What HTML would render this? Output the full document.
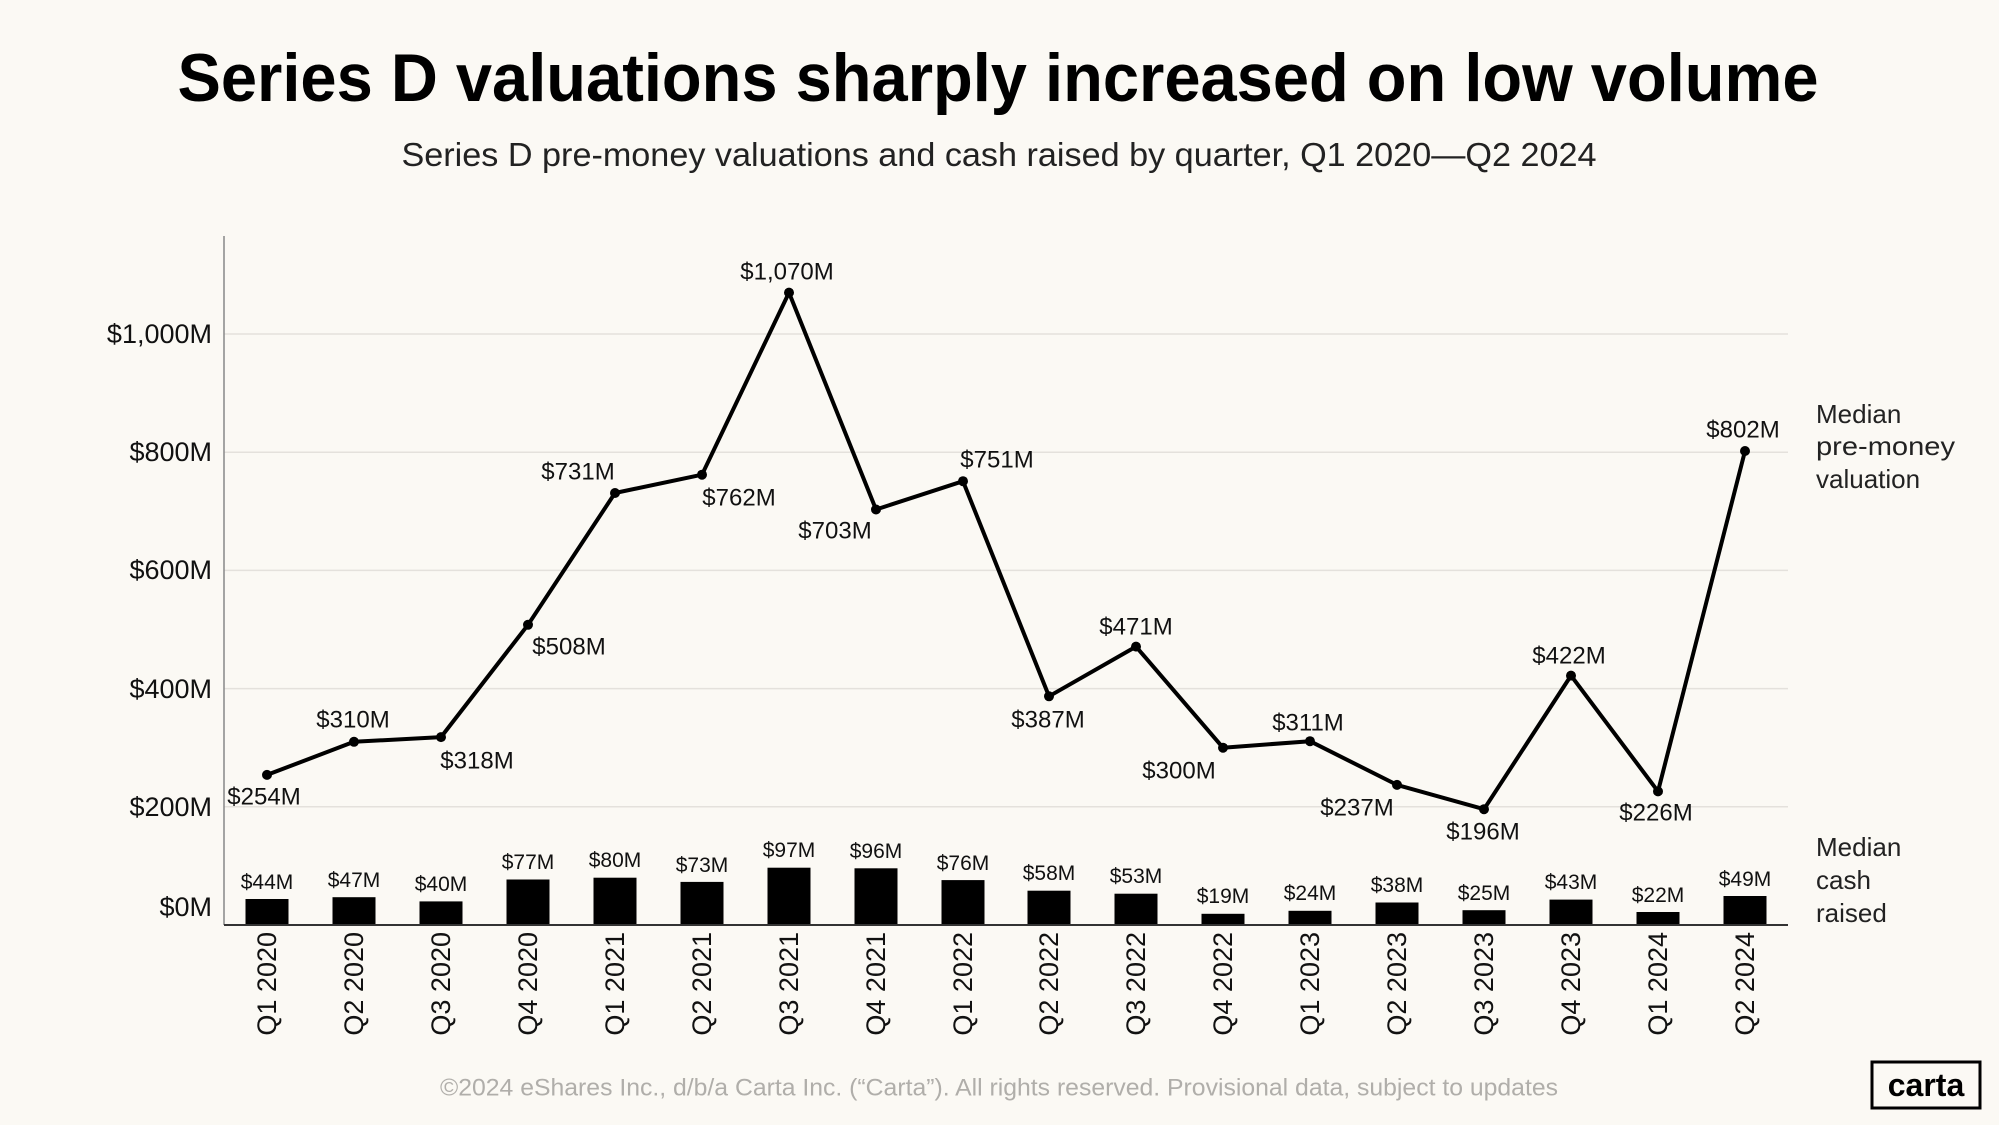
<!DOCTYPE html>
<html><head><meta charset="utf-8"><style>
html,body{margin:0;padding:0;background:#fbf9f4;}
svg{display:block;font-family:"Liberation Sans",sans-serif;}
</style></head><body>
<svg width="1999" height="1125" viewBox="0 0 1999 1125" xmlns="http://www.w3.org/2000/svg">
<rect width="1999" height="1125" fill="#fbf9f4"/>
<text x="998" y="101" text-anchor="middle" font-size="68" font-weight="bold" fill="#000" textLength="1641" lengthAdjust="spacingAndGlyphs">Series D valuations sharply increased on low volume</text>
<text x="999" y="166" text-anchor="middle" font-size="33" fill="#222" textLength="1195" lengthAdjust="spacingAndGlyphs">Series D pre-money valuations and cash raised by quarter, Q1 2020—Q2 2024</text>
<g stroke="#e4e1dc" stroke-width="1.5">
<line x1="224" x2="1788" y1="334" y2="334"/>
<line x1="224" x2="1788" y1="452.2" y2="452.2"/>
<line x1="224" x2="1788" y1="570.4" y2="570.4"/>
<line x1="224" x2="1788" y1="688.6" y2="688.6"/>
<line x1="224" x2="1788" y1="806.8" y2="806.8"/>
</g>
<line x1="224" x2="224" y1="236" y2="925" stroke="#888" stroke-width="1.5"/>
<g font-size="27" fill="#111" text-anchor="end" dominant-baseline="central">
<text x="212" y="334">$1,000M</text>
<text x="212" y="452">$800M</text>
<text x="212" y="570">$600M</text>
<text x="212" y="689">$400M</text>
<text x="212" y="807">$200M</text>
<text x="212" y="907">$0M</text>
</g>
<g fill="#000">
<rect x="245.5" y="899" width="43" height="26"/>
<rect x="332.5" y="897.2" width="43" height="27.8"/>
<rect x="419.5" y="901.4" width="43" height="23.6"/>
<rect x="506.5" y="879.5" width="43" height="45.5"/>
<rect x="593.5" y="877.7" width="43" height="47.3"/>
<rect x="680.5" y="881.9" width="43" height="43.1"/>
<rect x="767.5" y="867.7" width="43" height="57.3"/>
<rect x="854.5" y="868.3" width="43" height="56.7"/>
<rect x="941.5" y="880.1" width="43" height="44.9"/>
<rect x="1027.5" y="890.7" width="43" height="34.3"/>
<rect x="1114.5" y="893.7" width="43" height="31.3"/>
<rect x="1201.5" y="913.8" width="43" height="11.2"/>
<rect x="1288.5" y="910.8" width="43" height="14.2"/>
<rect x="1375.5" y="902.5" width="43" height="22.5"/>
<rect x="1462.5" y="910.2" width="43" height="14.8"/>
<rect x="1549.5" y="899.6" width="43" height="25.4"/>
<rect x="1636.5" y="912" width="43" height="13"/>
<rect x="1723.5" y="896" width="43" height="29"/>
</g>
<line x1="224" x2="1788" y1="925" y2="925" stroke="#333" stroke-width="2"/>
<g font-size="21" fill="#111" text-anchor="middle">
<text x="267" y="889">$44M</text>
<text x="354" y="887">$47M</text>
<text x="441" y="891">$40M</text>
<text x="528" y="869">$77M</text>
<text x="615" y="867">$80M</text>
<text x="702" y="872">$73M</text>
<text x="789" y="857">$97M</text>
<text x="876" y="858">$96M</text>
<text x="963" y="870">$76M</text>
<text x="1049" y="880">$58M</text>
<text x="1136" y="883">$53M</text>
<text x="1223" y="903">$19M</text>
<text x="1310" y="900">$24M</text>
<text x="1397" y="892">$38M</text>
<text x="1484" y="900">$25M</text>
<text x="1571" y="889">$43M</text>
<text x="1658" y="902">$22M</text>
<text x="1745" y="886">$49M</text>
</g>
<polyline fill="none" stroke="#000" stroke-width="4" stroke-linejoin="round" points="267,774.9 354,741.8 441,737.1 528,624.8 615,493 702,474.7 789,292.6 876,509.5 963,481.2 1049,696.3 1136,646.6 1223,747.7 1310,741.2 1397,784.9 1484,809.2 1571,675.6 1658,791.4 1745,451"/>
<g fill="#000">
<circle cx="267" cy="774.9" r="5"/><circle cx="354" cy="741.8" r="5"/><circle cx="441" cy="737.1" r="5"/><circle cx="528" cy="624.8" r="5"/><circle cx="615" cy="493" r="5"/><circle cx="702" cy="474.7" r="5"/><circle cx="789" cy="292.6" r="5"/><circle cx="876" cy="509.5" r="5"/><circle cx="963" cy="481.2" r="5"/><circle cx="1049" cy="696.3" r="5"/><circle cx="1136" cy="646.6" r="5"/><circle cx="1223" cy="747.7" r="5"/><circle cx="1310" cy="741.2" r="5"/><circle cx="1397" cy="784.9" r="5"/><circle cx="1484" cy="809.2" r="5"/><circle cx="1571" cy="675.6" r="5"/><circle cx="1658" cy="791.4" r="5"/><circle cx="1745" cy="451" r="5"/>
</g>
<g font-size="24" fill="#111" text-anchor="middle" dominant-baseline="central">
<text x="264" y="797">$254M</text>
<text x="353" y="720">$310M</text>
<text x="477" y="761">$318M</text>
<text x="569" y="647">$508M</text>
<text x="578" y="472">$731M</text>
<text x="739" y="498">$762M</text>
<text x="787" y="272">$1,070M</text>
<text x="835" y="531">$703M</text>
<text x="997" y="460">$751M</text>
<text x="1048" y="720">$387M</text>
<text x="1136" y="627">$471M</text>
<text x="1179" y="771">$300M</text>
<text x="1308" y="723">$311M</text>
<text x="1357" y="808">$237M</text>
<text x="1483" y="832">$196M</text>
<text x="1569" y="656">$422M</text>
<text x="1656" y="813">$226M</text>
<text x="1743" y="430">$802M</text>
</g>
<g font-size="27" fill="#111" text-anchor="end" dominant-baseline="central">
<text transform="translate(267,932) rotate(-90)">Q1 2020</text>
<text transform="translate(354,932) rotate(-90)">Q2 2020</text>
<text transform="translate(441,932) rotate(-90)">Q3 2020</text>
<text transform="translate(528,932) rotate(-90)">Q4 2020</text>
<text transform="translate(615,932) rotate(-90)">Q1 2021</text>
<text transform="translate(702,932) rotate(-90)">Q2 2021</text>
<text transform="translate(789,932) rotate(-90)">Q3 2021</text>
<text transform="translate(876,932) rotate(-90)">Q4 2021</text>
<text transform="translate(963,932) rotate(-90)">Q1 2022</text>
<text transform="translate(1049,932) rotate(-90)">Q2 2022</text>
<text transform="translate(1136,932) rotate(-90)">Q3 2022</text>
<text transform="translate(1223,932) rotate(-90)">Q4 2022</text>
<text transform="translate(1310,932) rotate(-90)">Q1 2023</text>
<text transform="translate(1397,932) rotate(-90)">Q2 2023</text>
<text transform="translate(1484,932) rotate(-90)">Q3 2023</text>
<text transform="translate(1571,932) rotate(-90)">Q4 2023</text>
<text transform="translate(1658,932) rotate(-90)">Q1 2024</text>
<text transform="translate(1745,932) rotate(-90)">Q2 2024</text>
</g>
<g font-size="26" fill="#222" dominant-baseline="central">
<text x="1816" y="414">Median</text>
<text x="1816" y="446" textLength="139" lengthAdjust="spacingAndGlyphs">pre-money</text>
<text x="1816" y="479">valuation</text>
<text x="1816" y="847">Median</text>
<text x="1816" y="880">cash</text>
<text x="1816" y="913">raised</text>
</g>
<text x="999" y="1088" text-anchor="middle" dominant-baseline="central" font-size="24" fill="#b0aeaa" textLength="1118" lengthAdjust="spacingAndGlyphs">©2024 eShares Inc., d/b/a Carta Inc. (“Carta”). All rights reserved. Provisional data, subject to updates</text>
<rect x="1872" y="1062" width="108" height="46" fill="none" stroke="#000" stroke-width="3"/>
<text x="1926" y="1085" text-anchor="middle" dominant-baseline="central" font-size="32" font-weight="bold" fill="#000">carta</text>
</svg>
</body></html>
